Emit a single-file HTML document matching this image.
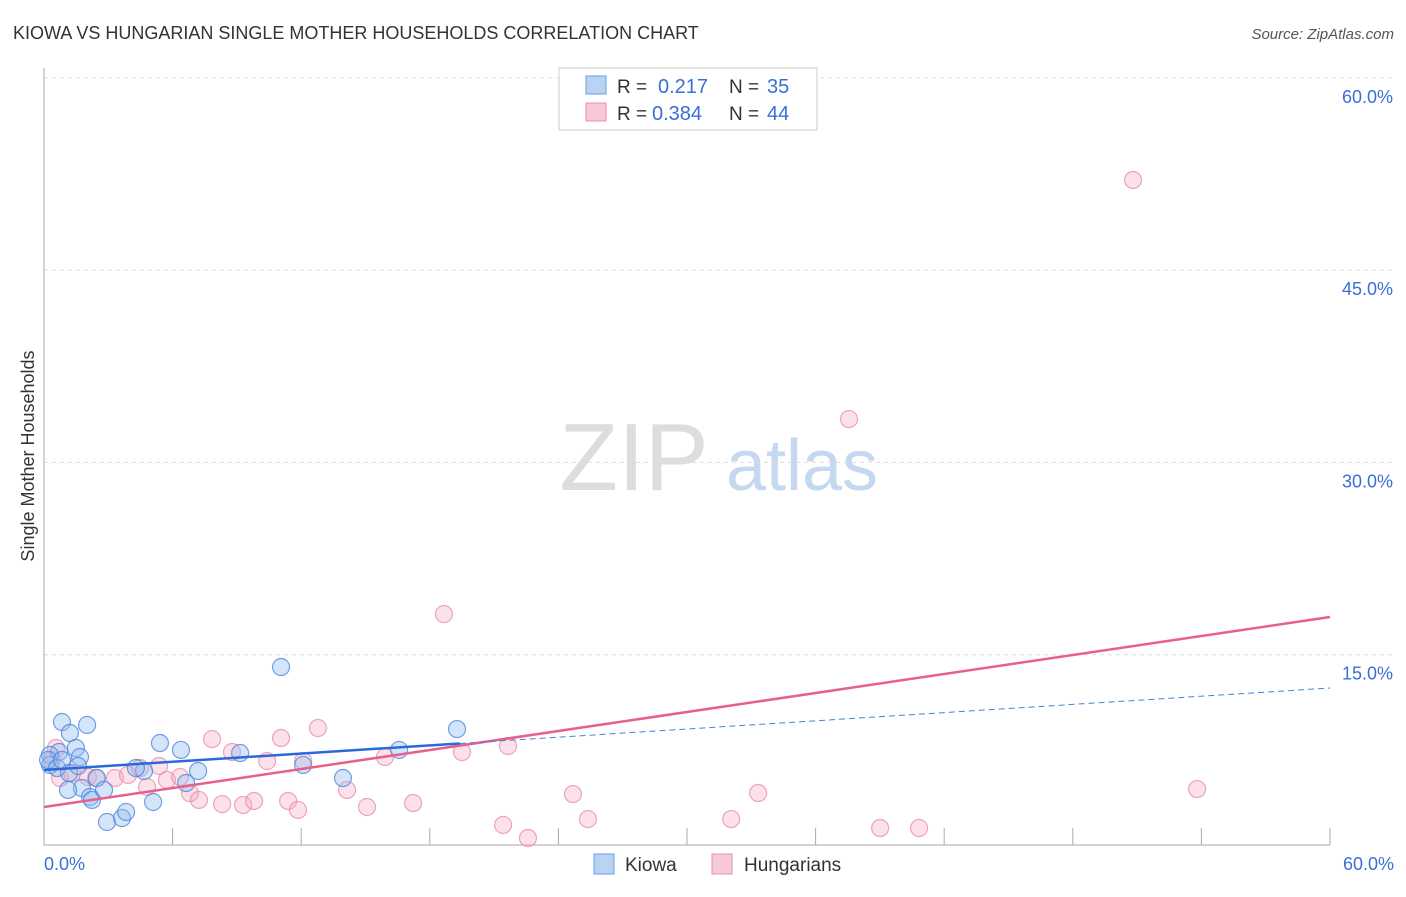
<!DOCTYPE html>
<html><head><meta charset="utf-8"><style>
body{margin:0;background:#fff;font-family:"Liberation Sans",sans-serif;}
svg text{font-family:"Liberation Sans",sans-serif;}
</style></head><body>
<svg id="c" width="1406" height="892">
<text x="13" y="39" font-size="18" fill="#333">KIOWA VS HUNGARIAN SINGLE MOTHER HOUSEHOLDS CORRELATION CHART</text>
<text x="1394" y="39" font-size="15" fill="#555" font-style="italic" text-anchor="end">Source: ZipAtlas.com</text>
<text transform="translate(34,456) rotate(-90)" font-size="18" fill="#333" text-anchor="middle">Single Mother Households</text>
<g><text x="634" y="490" font-size="96" font-family="Liberation Serif,serif" fill="#ddd" text-anchor="middle">ZIP</text><text x="802" y="490" font-size="72" fill="#c5d8f0" text-anchor="middle">atlas</text></g>
<g id="grid"></g><g id="axes"></g><g id="pts"></g><g id="lines"></g>
<g>
<rect x="559" y="68" width="258" height="62" fill="#fff" stroke="#ccc"/>
<rect x="586" y="76" width="20" height="18" fill="#b8d4f5" stroke="#6a9ee0"/>
<rect x="586" y="103" width="20" height="18" fill="#f9c8d6" stroke="#e890ac"/>
<text x="617" y="93" font-size="19" fill="#333">R =</text><text x="658" y="93" font-size="20" fill="#3a6fd8">0.217</text>
<text x="729" y="93" font-size="19" fill="#333">N =</text><text x="767" y="93" font-size="20" fill="#3a6fd8">35</text>
<text x="617" y="120" font-size="19" fill="#333">R =</text><text x="652" y="120" font-size="20" fill="#3a6fd8">0.384</text>
<text x="729" y="120" font-size="19" fill="#333">N =</text><text x="767" y="120" font-size="20" fill="#3a6fd8">44</text>
</g>
<g>
<rect x="594" y="854" width="20" height="20" fill="#b8d4f5" stroke="#6a9ee0"/><text x="625" y="871" font-size="19" fill="#333">Kiowa</text>
<rect x="712" y="854" width="20" height="20" fill="#f9c8d6" stroke="#e890ac"/><text x="744" y="871" font-size="19" fill="#333">Hungarians</text>
</g>
</svg>
<script>
const kiowaX=[0.84,1.21,2.01,1.49,0.70,0.28,0.28,0.19,0.61,0.84,1.68,1.17,1.59,2.47,1.77,1.12,2.15,2.24,2.80,2.94,3.64,3.83,5.09,5.41,6.39,7.19,6.63,4.67,4.29,9.15,11.06,12.09,13.95,16.57,19.27];
const kiowaY=[9.75,8.89,9.52,7.72,7.41,7.18,6.40,6.79,6.16,6.79,7.02,5.77,6.32,5.38,4.60,4.45,3.90,3.67,4.45,1.95,2.26,2.73,3.51,8.11,7.57,5.93,4.99,5.93,6.16,7.33,14.04,6.40,5.38,7.57,9.20];
const hungX=[50.81,37.56,18.66,0.56,0.37,0.75,1.31,2.05,2.43,3.31,3.92,4.48,4.81,5.37,5.74,6.35,6.81,7.23,7.84,8.31,8.77,9.29,9.80,10.41,11.06,11.39,11.85,12.09,12.78,14.14,15.07,15.91,17.22,19.50,21.42,21.65,22.58,24.68,25.38,32.06,33.32,39.01,40.83,53.80];
const hungY=[52.03,33.38,18.17,7.72,6.79,5.38,5.77,5.46,5.38,5.38,5.62,6.16,4.68,6.32,5.23,5.46,4.21,3.67,8.42,3.35,7.41,3.28,3.59,6.71,8.50,3.59,2.89,6.71,9.28,4.45,3.12,7.02,3.43,7.41,1.72,7.88,0.70,4.13,2.18,2.18,4.21,1.48,1.48,4.52];
const yTicks=[15,30,45,60];
const yTickLabels=["15.0%","30.0%","45.0%","60.0%"];
const kiowaTrend=[6.01,12.4]; const kiowaSolidEnd=19.4;
const hungTrend=[3.12,17.94];
const X=v=>44+v/60*1286, Y=v=>847-v/15*192.3;
const NS="http://www.w3.org/2000/svg";
function mk(p,t,a){const e=document.createElementNS(NS,t);for(const k in a)e.setAttribute(k,a[k]);document.getElementById(p).appendChild(e);return e;}
yTicks.forEach((t,i)=>{
 const g=mk('grid','line',{x1:44,x2:1394,y1:Y(t),y2:Y(t),stroke:'#ddd','stroke-dasharray':'4,4'});
 
 
 const l=mk('grid','text',{x:1393,y:Y(t)+25,'font-size':18,fill:'#3a6fd8','text-anchor':'end'});
 
 
 l.textContent=yTickLabels[i];
});
let a=mk('axes','line',{x1:44,x2:44,y1:68,y2:845,stroke:'#aaa'});


a=mk('axes','line',{x1:44,x2:1330,y1:845,y2:845,stroke:'#aaa'});


for(let v=0;v<=60;v+=6){const t=mk('axes','line',{x1:X(v),x2:X(v),y1:828,y2:845,stroke:'#aaa'});
 
 }
let tl=mk('axes','text',{x:44,y:870,'font-size':18,fill:'#3a6fd8'});tl.textContent='0.0%';


tl=mk('axes','text',{x:1394,y:870,'font-size':18,fill:'#3a6fd8','text-anchor':'end'});tl.textContent='60.0%';


hungX.forEach((x,i)=>{const c=mk('pts','circle',{cx:X(x),cy:Y(hungY[i]),r:8.5,fill:'rgba(245,170,195,0.35)',stroke:'rgba(230,130,165,0.7)','stroke-width':1.2});
 
 });
kiowaX.forEach((x,i)=>{const c=mk('pts','circle',{cx:X(x),cy:Y(kiowaY[i]),r:8.5,fill:'rgba(150,190,240,0.4)',stroke:'rgba(70,130,220,0.75)','stroke-width':1.2});
 
 });
const ky=v=>kiowaTrend[0]+(kiowaTrend[1]-kiowaTrend[0])*v/60;
let ln=mk('lines','line',{x1:X(0),y1:Y(hungTrend[0]),x2:X(60),y2:Y(hungTrend[1]),stroke:'#e8608a','stroke-width':2.5});


ln=mk('lines','line',{x1:X(0),y1:Y(ky(0)),x2:X(kiowaSolidEnd),y2:Y(ky(kiowaSolidEnd)),stroke:'#2a6ad8','stroke-width':2.5});


ln=mk('lines','line',{x1:X(kiowaSolidEnd),y1:Y(ky(kiowaSolidEnd)),x2:X(60),y2:Y(ky(60)),stroke:'#4a80d8','stroke-width':1,'stroke-dasharray':'6,4'});


</script>
</body></html>
